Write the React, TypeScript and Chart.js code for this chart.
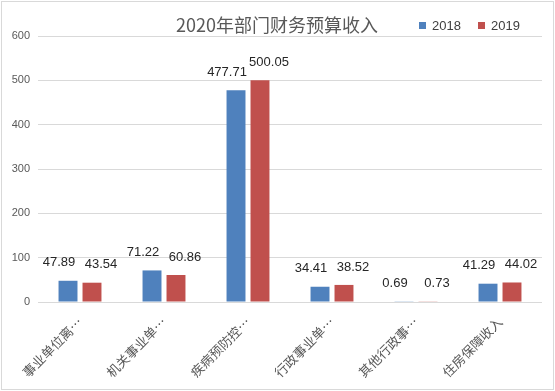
import React, { useEffect, useRef } from "react";
import { Chart, registerables } from "chart.js";

Chart.register(...registerables);

const titleText = "2020年部门财务预算收入";
const categories = ["事业单位离…", "机关事业单…", "疾病预防控…", "行政事业单…", "其他行政事…", "住房保障收入"];
const seriesNames = ["2018", "2019"];
const values2018 = [47.89, 71.22, 477.71, 34.41, 0.69, 41.29];
const values2019 = [43.54, 60.86, 500.05, 38.52, 0.73, 44.02];
const colors = ["#4f81bd", "#c0504d"];
const yTicks = [0, 100, 200, 300, 400, 500, 600];

const FONT = "'Liberation Sans', 'Noto Sans CJK SC', sans-serif";
const CJK = "'Noto Sans CJK SC', 'Liberation Sans', sans-serif";

const decorPlugin = {
  id: "decor",
  afterDraw(chart: any) {
    const ctx = chart.ctx;
    ctx.save();
    // frame
    ctx.strokeStyle = "#d9d9d9";
    ctx.lineWidth = 1;
    ctx.strokeRect(1.5, 1.5, chart.width - 3, chart.height - 3);
    // title
    ctx.fillStyle = "#595959";
    ctx.font = `18px ${CJK}`;
    ctx.textAlign = "center";
    ctx.textBaseline = "middle";
    ctx.fillText(titleText, 277, 25);
    // legend
    ctx.font = `13px ${FONT}`;
    ctx.textAlign = "left";
    const legendX = [419, 478];
    seriesNames.forEach((n, i) => {
      ctx.fillStyle = colors[i];
      ctx.fillRect(legendX[i], 22, 7, 7);
      ctx.fillStyle = "#404040";
      ctx.fillText(n, legendX[i] + 13, 26);
    });
    // data labels
    ctx.font = `13px ${FONT}`;
    ctx.fillStyle = "#262626";
    ctx.textAlign = "center";
    ctx.textBaseline = "middle";
    chart.data.datasets.forEach((ds: any, di: number) => {
      const meta = chart.getDatasetMeta(di);
      meta.data.forEach((bar: any, i: number) => {
        const v = ds.data[i];
        const dx = di === 0 ? -9 : 9;
        ctx.fillText(v.toFixed(2), bar.x + dx, bar.y - 18);
      });
    });
    ctx.restore();
  },
};

export default function App() {
  const ref = useRef<HTMLCanvasElement | null>(null);
  useEffect(() => {
    if (!ref.current) return;
    const chart = new Chart(ref.current, {
      type: "bar",
      data: {
        labels: categories,
        datasets: [
          { label: seriesNames[0], data: values2018, backgroundColor: colors[0], categoryPercentage: 0.571, barPercentage: 0.79 },
          { label: seriesNames[1], data: values2019, backgroundColor: colors[1], categoryPercentage: 0.571, barPercentage: 0.79 },
        ],
      },
      options: {
        animation: false,
        responsive: false,
        layout: { padding: { left: 0, right: 13, top: 36, bottom: 9 } },
        plugins: { legend: { display: false }, title: { display: false }, tooltip: { enabled: false } },
        scales: {
          x: {
            grid: { display: false },
            border: { display: false },
            ticks: { color: "#595959", font: { size: 13, family: CJK }, maxRotation: 45, minRotation: 45, autoSkip: false, padding: 4 },
            afterFit: (s: any) => { s.height = 80; },
          },
          y: {
            min: 0,
            max: 600,
            afterBuildTicks: (s: any) => { s.ticks = yTicks.map((v) => ({ value: v })); },
            grid: { color: "#d9d9d9", drawTicks: false },
            border: { display: false },
            ticks: { color: "#595959", font: { size: 11, family: FONT }, padding: 8 },
            afterFit: (s: any) => { s.width = 38; },
          },
        },
      },
      plugins: [decorPlugin],
    });
    return () => chart.destroy();
  }, []);
  return (
    <div style={{ position: "fixed", left: 0, top: 0, width: 555, height: 391, background: "#fff" }}>
      <canvas ref={ref} width={555} height={391} style={{ width: 555, height: 391 }} />
    </div>
  );
}
